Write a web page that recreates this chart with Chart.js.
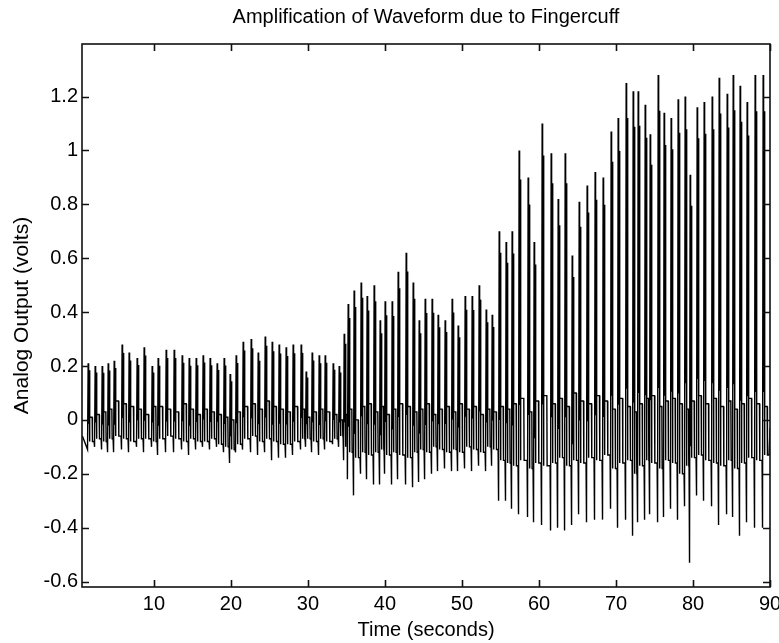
<!DOCTYPE html>
<html>
<head>
<meta charset="utf-8">
<script src="https://cdn.jsdelivr.net/npm/chart.js@4.4.1/dist/chart.umd.min.js"></script>
<style>
  html, body { margin: 0; padding: 0; background: #fff; }
  canvas { display: block; }
</style>
</head>
<body>
<canvas id="wave" width="779" height="643"></canvas>
<script>
// beat-by-beat readings: time of upstroke (s) and levels (V)
const beatTimes = [
  1.43, 2.34, 3.25, 4.03, 4.81, 5.84, 6.75, 7.79, 8.70, 9.74,
  10.52, 11.56, 12.60, 13.64, 14.55, 15.46, 16.36, 17.27, 18.18, 19.09,
  19.87, 20.65, 21.56, 22.60, 23.51, 24.42, 25.33, 26.23, 27.14, 28.05,
  29.09, 29.74, 30.52, 31.43, 32.21, 33.25, 34.03,
  34.68, 35.20, 35.97, 36.88, 37.66, 38.57, 39.35, 40.00, 40.91, 41.69,
  42.73, 43.64, 44.42, 45.20, 46.10, 46.88, 47.79, 48.70, 49.48, 50.39,
  51.30, 52.21, 53.12, 53.90,
  54.81, 55.71, 56.49, 57.40, 58.57, 59.35, 60.39, 61.56, 62.47, 63.38,
  64.29, 65.20, 66.23, 67.27, 68.31, 69.35, 70.26, 71.30, 72.21, 72.86,
  73.77, 74.42, 75.46, 76.23, 77.14, 78.05, 78.96, 79.61, 80.52, 81.43,
  82.47, 83.38, 84.42, 85.20, 86.10, 87.01, 88.05, 89.09
];
const beatPeaks = [
  0.21, 0.20, 0.20, 0.21, 0.22, 0.28, 0.25, 0.23, 0.27, 0.20,
  0.23, 0.26, 0.26, 0.24, 0.23, 0.23, 0.24, 0.23, 0.21, 0.23,
  0.17, 0.24, 0.29, 0.30, 0.25, 0.31, 0.29, 0.28, 0.27, 0.28,
  0.28, 0.18, 0.25, 0.24, 0.24, 0.21, 0.20,
  0.32, 0.43, 0.48, 0.51, 0.46, 0.50, 0.37, 0.44, 0.44, 0.55,
  0.62, 0.51, 0.37, 0.45, 0.45, 0.39, 0.37, 0.45, 0.35, 0.46,
  0.46, 0.50, 0.41, 0.39,
  0.70, 0.66, 0.70, 1.00, 0.90, 0.66, 1.10, 0.99, 0.82, 0.99,
  0.61, 0.81, 0.87, 0.92, 0.90, 1.07, 1.12, 1.25, 1.22, 1.22,
  1.17, 1.06, 1.28, 1.14, 1.12, 1.19, 1.20, 0.91, 1.16, 1.18,
  1.20, 1.27, 1.21, 1.28, 1.24, 1.18, 1.28, 1.28
];
const beatTroughs = [
  -0.11, -0.10, -0.11, -0.12, -0.12, -0.11, -0.12, -0.10, -0.12, -0.10,
  -0.13, -0.12, -0.12, -0.11, -0.13, -0.11, -0.10, -0.11, -0.10, -0.12,
  -0.16, -0.12, -0.11, -0.12, -0.13, -0.12, -0.15, -0.14, -0.14, -0.13,
  -0.11, -0.10, -0.12, -0.13, -0.11, -0.09, -0.10,
  -0.15, -0.22, -0.28, -0.20, -0.22, -0.24, -0.24, -0.20, -0.24, -0.22,
  -0.24, -0.25, -0.23, -0.22, -0.20, -0.19, -0.18, -0.19, -0.19, -0.18,
  -0.19, -0.17, -0.19, -0.17,
  -0.30, -0.30, -0.33, -0.35, -0.36, -0.38, -0.39, -0.41, -0.40, -0.41,
  -0.39, -0.35, -0.38, -0.37, -0.37, -0.33, -0.40, -0.37, -0.43, -0.38,
  -0.37, -0.35, -0.38, -0.36, -0.33, -0.37, -0.32, -0.53, -0.28, -0.30,
  -0.32, -0.39, -0.35, -0.36, -0.43, -0.38, -0.40, -0.40
];
// top of the dicrotic bump and the floor of the grey band after it
const beatNotches = [
  0.01, 0.02, 0.03, 0.04, 0.07, 0.06, 0.05, 0.04, 0.02, 0.05,
  0.05, 0.04, 0.03, 0.06, 0.04, 0.02, 0.04, 0.03, 0.02, 0.01,
  0.00, 0.03, 0.05, 0.06, 0.04, 0.07, 0.05, 0.04, 0.03, 0.05,
  0.04, 0.01, 0.03, 0.04, 0.03, 0.02, 0.00,
  0.02, 0.04, 0.00, 0.05, 0.06, 0.03, 0.05, 0.02, 0.04, 0.06,
  0.05, 0.03, 0.04, 0.06, 0.02, 0.04, 0.05, 0.03, 0.06, 0.04,
  0.05, 0.02, 0.04, 0.03,
  0.05, 0.04, 0.06, 0.08, 0.03, 0.07, 0.09, 0.06, 0.08, 0.05,
  0.10, 0.07, 0.06, 0.09, 0.07, 0.04, 0.08, 0.05, 0.03, 0.06,
  0.08, 0.09, 0.05, 0.07, 0.08, 0.06, 0.04, 0.07, 0.09, 0.06,
  0.08, 0.05, 0.07, 0.04, 0.06, 0.08, 0.06, 0.05
];
const beatLows = [
  -0.08, -0.07, -0.08, -0.07, -0.06, -0.07, -0.08, -0.07, -0.07, -0.08,
  -0.07, -0.06, -0.07, -0.08, -0.07, -0.08, -0.08, -0.07, -0.09, -0.10,
  -0.11, -0.09, -0.07, -0.06, -0.08, -0.07, -0.08, -0.09, -0.09, -0.08,
  -0.07, -0.07, -0.08, -0.07, -0.08, -0.07, -0.06,
  -0.10, -0.12, -0.14, -0.12, -0.13, -0.12, -0.11, -0.13, -0.12, -0.13,
  -0.14, -0.12, -0.11, -0.12, -0.10, -0.11, -0.12, -0.11, -0.12, -0.10,
  -0.11, -0.12, -0.10, -0.11,
  -0.15, -0.16, -0.17, -0.15, -0.18, -0.16, -0.17, -0.16, -0.14, -0.17,
  -0.15, -0.16, -0.14, -0.15, -0.13, -0.18, -0.16, -0.15, -0.20, -0.17,
  -0.15, -0.16, -0.18, -0.15, -0.16, -0.20, -0.17, -0.14, -0.13, -0.15,
  -0.16, -0.17, -0.15, -0.18, -0.16, -0.14, -0.15, -0.13
];
const traceStart = { t: 0.7, v: -0.06 };
const traceEnd = { t: 90, v: -0.03 };

const xTicks = [10, 20, 30, 40, 50, 60, 70, 80, 90];
const yTicks = [-0.6, -0.4, -0.2, 0, 0.2, 0.4, 0.6, 0.8, 1, 1.2];

// expand each beat into its samples: trough, spike (two samples near the top),
// drop, notch plateau, settle
function buildTrace() {
  const pts = [{ x: traceStart.t, y: traceStart.v }];
  for (let i = 0; i < beatTimes.length; i++) {
    const t = beatTimes[i];
    const next = i + 1 < beatTimes.length ? beatTimes[i + 1] : traceEnd.t;
    const gap = next - t;
    const lo = beatTroughs[i], hi = beatPeaks[i];
    pts.push({ x: t - 0.06, y: lo });
    pts.push({ x: t + 0.02, y: hi });
    pts.push({ x: t + 0.08, y: lo + (hi - lo) * 0.3 });
    pts.push({ x: t + 0.14, y: lo + (hi - lo) * 0.92 });
    pts.push({ x: t + 0.2, y: beatLows[i] });
    pts.push({ x: t + 0.24, y: beatNotches[i] });
    pts.push({ x: t + 0.24 + gap * 0.33, y: beatNotches[i] });
    pts.push({ x: t + 0.28 + gap * 0.33, y: beatLows[i] });
    pts.push({ x: next - 0.12, y: beatLows[i] });
  }
  pts.push({ x: traceEnd.t, y: traceEnd.v });
  return pts;
}

const font = { family: "'Liberation Sans', Arial, sans-serif", size: 20, weight: 'normal' };
const ink = '#000';

// MATLAB-style closed box with inward ticks on all four sides
const boxTicks = {
  id: 'boxTicks',
  afterDraw(chart) {
    const { ctx, chartArea: a } = chart;
    const xs = chart.scales.x, ys = chart.scales.y;
    ctx.save();
    ctx.strokeStyle = '#111';
    ctx.lineWidth = 1.6;
    ctx.strokeRect(a.left, a.top, a.right - a.left, a.bottom - a.top);
    ctx.beginPath();
    xTicks.forEach(v => {
      const px = Math.round(xs.getPixelForValue(v)) + 0.5;
      ctx.moveTo(px, a.bottom); ctx.lineTo(px, a.bottom - 7);
      ctx.moveTo(px, a.top); ctx.lineTo(px, a.top + 7);
    });
    yTicks.forEach(v => {
      const py = Math.round(ys.getPixelForValue(v)) + 0.5;
      ctx.moveTo(a.left, py); ctx.lineTo(a.left + 7, py);
      ctx.moveTo(a.right, py); ctx.lineTo(a.right - 7, py);
    });
    ctx.stroke();
    ctx.restore();
  }
};

const chart = new Chart(document.getElementById('wave').getContext('2d'), {
  type: 'line',
  data: {
    datasets: [{
      data: buildTrace(),
      borderColor: ink,
      borderWidth: 1.4,
      pointRadius: 0,
      tension: 0,
      fill: false
    }]
  },
  options: {
    responsive: false,
    animation: false,
    devicePixelRatio: 1,
    layout: { padding: { left: 0, right: 9, top: 0, bottom: 0 } },
    plugins: {
      legend: { display: false },
      tooltip: { enabled: false },
      title: {
        display: true,
        fullSize: false,
        text: 'Amplification of Waveform due to Fingercuff',
        color: ink,
        font: font,
        padding: { top: 5, bottom: 15 }
      }
    },
    scales: {
      x: {
        type: 'linear',
        min: 0.65,
        max: 90,
        afterBuildTicks: s => { s.ticks = xTicks.map(v => ({ value: v })); },
        afterFit: s => { s.height = 56; s.paddingLeft = 0; s.paddingRight = 0; },
        grid: { display: false, drawTicks: false },
        border: { display: false },
        ticks: { color: ink, font: font, padding: 5, maxRotation: 0, autoSkip: false, callback: v => String(v) },
        title: { display: true, text: 'Time (seconds)', color: ink, font: font, padding: { top: 0, bottom: 1 } }
      },
      y: {
        type: 'linear',
        min: -0.62,
        max: 1.395,
        afterBuildTicks: s => { s.ticks = yTicks.map(v => ({ value: v })); },
        afterFit: s => { s.width = 82; s.paddingTop = 0; s.paddingBottom = 0; },
        grid: { display: false, drawTicks: false },
        border: { display: false },
        ticks: { color: ink, font: font, padding: 4, autoSkip: false, callback: v => String(Math.round(v * 10) / 10) },
        title: { display: true, text: 'Analog Output (volts)', color: ink, font: { ...font, size: 21 }, padding: { top: 10, bottom: 0 } }
      }
    }
  },
  plugins: [boxTicks]
});
</script>
</body>
</html>
